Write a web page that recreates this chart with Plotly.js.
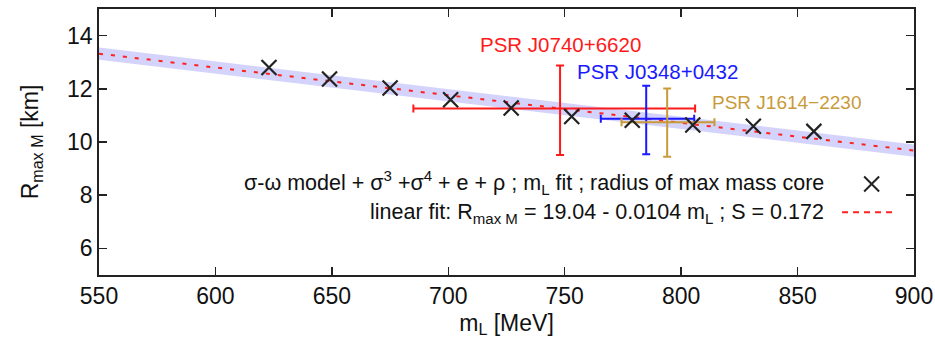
<!DOCTYPE html>
<html>
<head>
<meta charset="utf-8">
<script src="https://cdn.plot.ly/plotly-3.0.1.min.js"></script>
<style>
  html, body { margin: 0; padding: 0; background: #fff; }
  #chart { width: 935px; height: 342px; }
</style>
</head>
<body>
<div id="chart"></div>
<script>
// ---- data ----
const mL = [623, 649, 675, 701, 727, 753, 779, 805, 831, 857];
const Rmax = [12.80, 12.37, 12.03, 11.59, 11.28, 10.96, 10.82, 10.64, 10.59, 10.40];

const fitIntercept = 19.04;
const fitSlope = -0.0104;
const fitS = 0.172;
const bandHalf = 0.23;
const fitRange = [550, 900];

const psrNames = ["PSR J0740+6620", "PSR J0348+0432", "PSR J1614\u22122230"];
const psrX = [748, 785, 794];
const psrY = [11.26, 10.87, 10.74];
const psrXMinus = [63, 19.5, 19.6];
const psrXPlus = [58, 20.6, 20.3];
const psrYMinus = [1.75, 1.33, 1.29];
const psrYPlus = [1.62, 1.24, 1.27];
const psrColors = ["#ff1a1a", "#1a1aff", "#c99a3a"];
const psrLabelX = [748, 754.5, 812.5];
const psrLabelY = [13.65, 12.65, 11.48];
const psrLabelAnchor = ["center", "left", "left"];
const psrLabelSize = [20.5, 20.5, 19];

const xTicks = [550, 600, 650, 700, 750, 800, 850, 900];
const yTicks = [6, 8, 10, 12, 14];

// ---- build traces ----
const fitY = fitRange.map(x => fitIntercept + fitSlope * x);
const traces = [];

traces.push({
  x: fitRange, y: fitY.map(v => v + bandHalf),
  mode: 'lines', line: {width: 0, color: 'rgba(0,0,0,0)'},
  showlegend: false, hoverinfo: 'skip'
});
traces.push({
  x: fitRange, y: fitY.map(v => v - bandHalf),
  mode: 'lines', line: {width: 0, color: 'rgba(0,0,0,0)'},
  fill: 'tonexty', fillcolor: 'rgba(140,140,245,0.38)',
  showlegend: false, hoverinfo: 'skip'
});
traces.push({
  x: fitRange, y: fitY,
  mode: 'lines', line: {color: '#ff2020', width: 2, dash: '4px,8px'},
  showlegend: false
});

for (let i = 0; i < psrNames.length; i++) {
  traces.push({
    x: [psrX[i]], y: [psrY[i]],
    mode: 'markers', marker: {size: 1, opacity: 0},
    error_x: {type: 'data', symmetric: false, array: [psrXPlus[i]], arrayminus: [psrXMinus[i]],
              color: psrColors[i], thickness: 2, width: 4},
    error_y: {type: 'data', symmetric: false, array: [psrYPlus[i]], arrayminus: [psrYMinus[i]],
              color: psrColors[i], thickness: 2, width: 4},
    showlegend: false, name: psrNames[i]
  });
}

traces.push({
  x: mL, y: Rmax,
  mode: 'markers',
  marker: {symbol: 'x-thin-open', size: 15, line: {color: '#222', width: 2.2}, color: '#222'},
  showlegend: false
});

// ---- annotations ----
const FONT = 'Liberation Sans, Arial, sans-serif';
const annotations = psrNames.map((n, i) => ({
  x: psrLabelX[i], y: psrLabelY[i], xref: 'x', yref: 'y',
  text: n, showarrow: false, xanchor: psrLabelAnchor[i], yanchor: 'middle',
  font: {family: FONT, size: psrLabelSize[i], color: psrColors[i]}
}));

annotations.push({
  x: 0.892, y: 0.346, xref: 'paper', yref: 'paper', xanchor: 'right', yanchor: 'middle',
  showarrow: false,
  text: '\u03c3-\u03c9 model + \u03c3<sup>3</sup> +\u03c3<sup>4</sup> + e + \u03c1 ; m<sub>L</sub> fit ; radius of max mass core',
  font: {family: FONT, size: 21.5, color: '#111'}
});
annotations.push({
  x: 0.892, y: 0.232, xref: 'paper', yref: 'paper', xanchor: 'right', yanchor: 'middle',
  showarrow: false,
  text: 'linear fit: R<sub>max M</sub> = ' + fitIntercept.toFixed(2) + ' - ' + Math.abs(fitSlope).toFixed(4) + ' m<sub>L</sub> ; S = ' + fitS.toFixed(3),
  font: {family: FONT, size: 21.5, color: '#111'}
});

// legend samples (paper coordinates)
const cx = 0.948, cy = 0.342, dx = 0.0092, dy = 0.028;
const shapes = [
  {type: 'path', xref: 'paper', yref: 'paper',
   path: `M ${cx-dx} ${cy-dy} L ${cx+dx} ${cy+dy} M ${cx-dx} ${cy+dy} L ${cx+dx} ${cy-dy}`,
   line: {color: '#222', width: 2}},
  {type: 'line', xref: 'paper', yref: 'paper', x0: 0.9117, x1: 0.979, y0: 0.236, y1: 0.236,
   line: {color: '#ff2020', width: 2, dash: '6px,5px'}}
];

const layout = {
  width: 935, height: 342,
  margin: {l: 99, r: 21, t: 9, b: 67},
  paper_bgcolor: '#fff', plot_bgcolor: '#fff',
  font: {family: FONT, size: 22, color: '#111'},
  showlegend: false,
  xaxis: {
    range: [550, 900], tickvals: xTicks, ticktext: xTicks.map(String),
    ticks: 'inside', ticklen: 8, tickwidth: 1.5, tickcolor: '#222',
    showline: true, linecolor: '#222', linewidth: 1.8, mirror: 'allticks',
    showgrid: false, zeroline: false,
    tickfont: {family: FONT, size: 23, color: '#111'},
    title: {text: 'm<sub>L</sub> [MeV]', font: {family: FONT, size: 23, color: '#111'}, standoff: 6}
  },
  yaxis: {
    range: [5, 15], tickvals: yTicks, ticktext: yTicks.map(String),
    ticks: 'inside', ticklen: 8, tickwidth: 1.5, tickcolor: '#222',
    showline: true, linecolor: '#222', linewidth: 1.8, mirror: 'allticks',
    showgrid: false, zeroline: false,
    tickfont: {family: FONT, size: 23, color: '#111'},
    title: {text: 'R<sub>max M</sub> [km]', font: {family: FONT, size: 23, color: '#111'}, standoff: 22}
  },
  annotations: annotations,
  shapes: shapes
};

Plotly.newPlot('chart', traces, layout, {displayModeBar: false, staticPlot: true});
</script>
</body>
</html>
